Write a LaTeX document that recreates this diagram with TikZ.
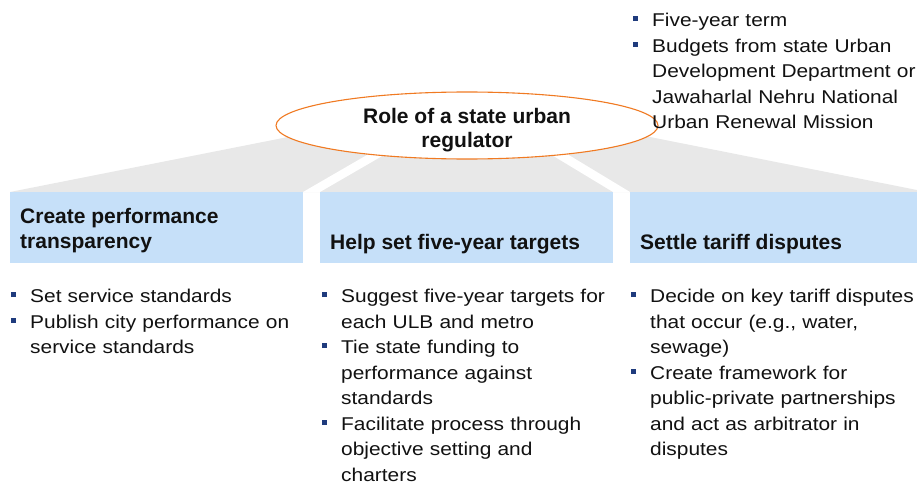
\documentclass[tikz,border=0pt]{standalone}
\usepackage{fontspec}
\setmainfont{Liberation Sans}
\newfontfamily\bodyfont[FakeStretch=1.13]{Liberation Sans}
\usetikzlibrary{shapes.geometric,positioning}
\definecolor{ink}{HTML}{111111}
\definecolor{navy}{HTML}{1F3B7D}
\definecolor{rolering}{HTML}{F07A22}
\definecolor{boxblue}{HTML}{C6E0F9}
\definecolor{fan}{HTML}{E8E8E8}
\newcommand{\pointlist}[1]{%
  \begin{list}{\textcolor{navy}{\rule[5.5pt]{5pt}{5pt}}}{%
    \setlength{\leftmargin}{20pt}\setlength{\labelwidth}{7pt}\setlength{\labelsep}{14pt}%
    \setlength{\itemsep}{0pt}\setlength{\parsep}{0pt}\setlength{\topsep}{0pt}\setlength{\partopsep}{0pt}}%
  #1\end{list}}
\tikzset{
  roleoval/.style={ellipse, draw=rolering, fill=white, line width=1.1pt, minimum width=382pt, minimum height=67pt, inner sep=0pt},
  roletext/.style={align=center, inner sep=0pt, text=ink, font=\fontsize{21}{23.5}\selectfont\bfseries},
  headbox/.style={fill=boxblue, minimum height=71pt, anchor=north west, inner sep=0pt},
  headlabel/.style={anchor=base west, inner sep=0pt, align=left, text=ink, font=\fontsize{21}{25}\selectfont\bfseries},
  points/.style={anchor=north west, inner sep=0pt, text width=300pt, text=ink, font=\bodyfont\fontsize{18.5}{25.5}\selectfont},
}
\begin{document}
\begin{tikzpicture}[x=1pt,y=-1pt]
\useasboundingbox (0,0) rectangle (917,484);

% -----------------------------------------------------------------------------
% fan from the role oval to the three boxes
% -----------------------------------------------------------------------------
\fill[fan] (10,192) -- (288,137) -- (650,137) -- (917,190) -- (917,192) -- cycle;
\fill[white] (303,192) -- (320,192) -- (415,137) -- (398,137) -- cycle;
\fill[white] (613,192) -- (630,192) -- (539,137) -- (522,137) -- cycle;

% boxes
\node[headbox, minimum width=293pt] (b1) at (10,192) {};
\node[headbox, minimum width=293pt] (b2) at (320,192) {};
\node[headbox, minimum width=287pt] (b3) at (630,192) {};

% role oval
\node[roleoval] (role) at (467,125.5) {};
\node[roletext] (rolename) at (467,130) {Role of a state urban\\regulator};

% box titles
\node[headlabel] (h1) at (20,248.5) {Create performance\\transparency};
\node[headlabel] (h2) at (330,249.5) {Help set five-year targets};
\node[headlabel] (h3) at (640,249.5) {Settle tariff disputes};

% -----------------------------------------------------------------------------
% bullet points
% -----------------------------------------------------------------------------
\node[points] (terms) at (632,1) {\pointlist{\item Five-year term
  \item Budgets from state Urban\\Development Department or\\Jawaharlal Nehru National\\Urban Renewal Mission}};

\node[points] (p1) at (10,277) {\pointlist{\item Set service standards
  \item Publish city performance on\\service standards}};
\node[points] (p2) at (321,277) {\pointlist{\item Suggest five-year targets for\\each ULB and metro
  \item Tie state funding to\\performance against\\standards
  \item Facilitate process through\\objective setting and\\charters}};
\node[points] (p3) at (630,277) {\pointlist{\item Decide on key tariff disputes\\that occur (e.g., water,\\sewage)
  \item Create framework for\\public-private partnerships\\and act as arbitrator in\\disputes}};

\end{tikzpicture}
\end{document}
